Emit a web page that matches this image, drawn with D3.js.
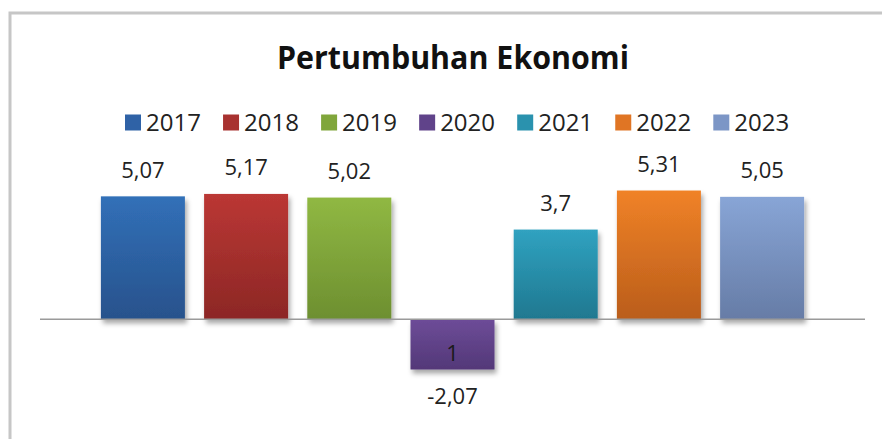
<!DOCTYPE html>
<html>
<head>
<meta charset="utf-8">
<script src="https://cdn.jsdelivr.net/npm/d3@7"></script>
<style>
  html, body { margin: 0; padding: 0; background: #ffffff; }
  svg { display: block; }
</style>
</head>
<body>
<svg id="chart" width="882" height="439"></svg>
<script>
// ---- data ----
const title = "Pertumbuhan Ekonomi";
const years = ["2017", "2018", "2019", "2020", "2021", "2022", "2023"];
const values = [5.07, 5.17, 5.02, -2.07, 3.7, 5.31, 5.05];
const valueLabels = ["5,07", "5,17", "5,02", "-2,07", "3,7", "5,31", "5,05"];
const innerLabels = ["", "", "", "1", "", "", ""];
const topColors = ["#3170b8", "#bb3734", "#90b843", "#6d4c98", "#30a2c0", "#f08227", "#88a5d6"];
const bottomColors = ["#28528c", "#8c2725", "#6d8f30", "#533878", "#1f7890", "#ba5d1b", "#667ca6"];
const legendColors = ["#2f62a6", "#a83230", "#80a63b", "#60438a", "#2a92ae", "#e07524", "#7c96c6"];

const svg = d3.select("#chart");
const font = "'Open Sans', 'Noto Sans', sans-serif";

// frame
svg.append("path")
  .attr("d", "M10,440 L10,13 L890,13")
  .attr("fill", "none")
  .attr("stroke", "#c6c6c6")
  .attr("stroke-width", 3);

// scales
const x = d3.scaleBand().domain(years).range([40, 865]).paddingInner(0.186).paddingOuter(0.59);
const y = d3.scaleLinear().domain([-4, 6]).range([319.3 + 4 * 24.25, 319.3 - 6 * 24.25]);

// defs: gradients and shadow
const defs = svg.append("defs");
years.forEach((yr, i) => {
  const g = defs.append("linearGradient").attr("id", "g" + i)
    .attr("x1", 0).attr("y1", 0).attr("x2", 0).attr("y2", 1);
  g.append("stop").attr("offset", "0%").attr("stop-color", topColors[i]);
  g.append("stop").attr("offset", "100%").attr("stop-color", bottomColors[i]);
});
const f = defs.append("filter").attr("id", "shadow")
  .attr("x", "-20%").attr("y", "-20%").attr("width", "140%").attr("height", "140%");
f.append("feDropShadow").attr("dx", 2).attr("dy", 4).attr("stdDeviation", 2.5)
  .attr("flood-color", "#000").attr("flood-opacity", 0.35);

// title
const t = svg.append("text")
  .attr("x", 453).attr("y", 69)
  .attr("text-anchor", "middle")
  .attr("font-family", font)
  .attr("font-weight", "bold")
  .attr("font-size", 33)
  .attr("fill", "#111")
  .text(title);
const tw = t.node().getComputedTextLength();
if (tw > 352) t.attr("textLength", 352).attr("lengthAdjust", "spacingAndGlyphs");

// legend
const legend = svg.append("g");
const legendStep = 98.05;
years.forEach((yr, i) => {
  const gx = 125 + i * legendStep;
  legend.append("rect").attr("x", gx).attr("y", 114.5).attr("width", 16).attr("height", 16)
    .attr("fill", legendColors[i]);
  legend.append("text").attr("x", gx + 21).attr("y", 131)
    .attr("font-family", font).attr("font-size", 24).attr("fill", "#222")
    .text(yr);
});

// bars
const data = years.map((yr, i) => ({ yr, v: values[i], lab: valueLabels[i], inner: innerLabels[i], i }));
svg.append("g").selectAll("rect").data(data).join("rect")
  .attr("x", d => x(d.yr))
  .attr("width", x.bandwidth())
  .attr("y", d => y(Math.max(0, d.v)))
  .attr("height", d => Math.abs(y(d.v) - y(0)))
  .attr("fill", d => "url(#g" + d.i + ")")
  .attr("filter", "url(#shadow)");

// baseline
svg.append("line")
  .attr("x1", 40).attr("x2", 865)
  .attr("y1", y(0)).attr("y2", y(0))
  .attr("stroke", "#9a9a9a").attr("stroke-width", 1.5);

// value labels
svg.append("g").selectAll("text").data(data).join("text")
  .attr("x", d => x(d.yr) + x.bandwidth() / 2)
  .attr("y", d => d.v >= 0 ? y(d.v) - 18.5 : y(d.v) + 35)
  .attr("text-anchor", "middle")
  .attr("font-family", font).attr("font-size", 22).attr("fill", "#222")
  .text(d => d.lab);

// inner labels
svg.append("g").selectAll("text").data(data.filter(d => d.inner !== "")).join("text")
  .attr("x", d => x(d.yr) + x.bandwidth() / 2)
  .attr("y", d => y(0) + (y(d.v) - y(0)) * 0.84)
  .attr("text-anchor", "middle")
  .attr("font-family", font).attr("font-size", 22).attr("fill", "#1a1a1a")
  .text(d => d.inner);
</script>
</body>
</html>
